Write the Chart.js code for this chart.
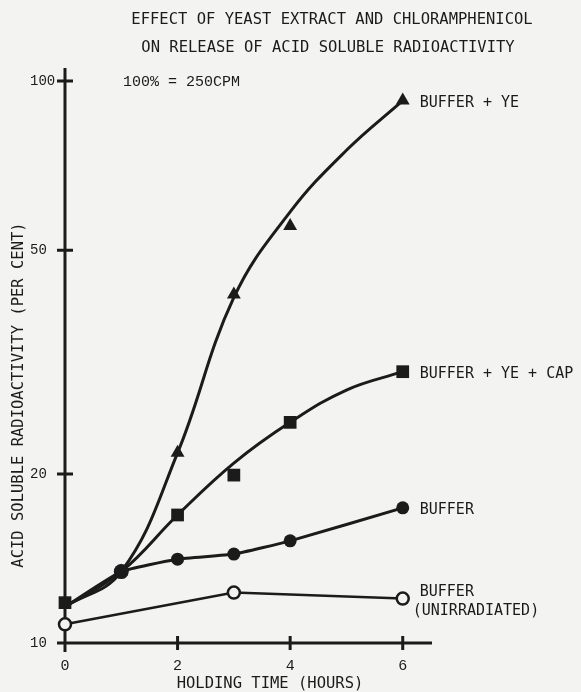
<!DOCTYPE html>
<html>
<head>
<meta charset="utf-8">
<script src="https://cdn.jsdelivr.net/npm/chart.js@4.4.1/dist/chart.umd.min.js"></script>
<style>
  html, body { margin: 0; padding: 0; background: #f3f3f1; }
  canvas { display: block; }
</style>
</head>
<body>
<canvas id="chart" width="581" height="692"></canvas>
<script>
// values (log y axis)
const hours = [0, 1, 2, 3, 4, 6];
const bufferYE = [null, 13.4, 21.8, 41.7, 55.2, 92.3];
const bufferYECap = [11.8, null, 16.9, 19.9, 24.7, 30.4];
const buffer = [11.6, 13.4, 14.1, 14.4, 15.2, 17.4];
const unirradiated = [10.8, null, null, 12.3, null, 12.0];
// hand-drawn fit curves
const curveHours = [0, 1, 2, 3, 4, 5, 6];
const yeCurve = [11.6, 13.4, 21.8, 41.2, 58.5, 75.3, 92.3];
const capCurve = [11.6, 13.4, 16.9, 20.9, 24.7, 28.2, 30.4];
const xTicks = [0, 2, 4, 6];
const yTicks = [10, 20, 50, 100];
const seriesNames = ["BUFFER + YE", "BUFFER + YE + CAP", "BUFFER", "BUFFER\n(UNIRRADIATED)"];
const titleLines = ["EFFECT OF YEAST EXTRACT AND CHLORAMPHENICOL", "ON RELEASE OF ACID SOLUBLE RADIOACTIVITY"];
const xTitle = "HOLDING TIME (HOURS)";
const yTitle = "ACID SOLUBLE RADIOACTIVITY (PER CENT)";
const note = "100% = 250CPM";

const ink = "#1b1b1b";
const paper = "#f3f3f1";
const labelFont = "15.5px 'DejaVu Sans Mono'";

const toPoints = (xs, vals) => xs.map((h, i) => ({ x: h, y: vals[i] }));

// axes drawn as crossing lines like the typed figure
const axesPlugin = {
  id: "axes",
  beforeDraw(chart) {
    const ctx = chart.ctx;
    ctx.save();
    ctx.fillStyle = paper;
    ctx.fillRect(0, 0, chart.width, chart.height);
    ctx.restore();
  },
  beforeDatasetsDraw(chart) {
    const { ctx, chartArea, scales } = chart;
    const x0 = scales.x.getPixelForValue(0);
    const y0 = scales.y.getPixelForValue(10);
    ctx.save();
    ctx.strokeStyle = ink;
    ctx.lineWidth = 3;
    ctx.beginPath();
    ctx.moveTo(chartArea.left, y0);
    ctx.lineTo(chartArea.right, y0);
    ctx.moveTo(x0, chartArea.top);
    ctx.lineTo(x0, chartArea.bottom);
    yTicks.forEach((v) => {
      const y = scales.y.getPixelForValue(v);
      ctx.moveTo(x0 - 8, y);
      ctx.lineTo(x0 + 8, y);
    });
    xTicks.forEach((v) => {
      const x = scales.x.getPixelForValue(v);
      ctx.moveTo(x, y0 - 7);
      ctx.lineTo(x, y0 + 7);
    });
    ctx.stroke();
    ctx.restore();
  },
  afterDraw(chart) {
    const { ctx } = chart;
    ctx.save();
    ctx.fillStyle = ink;
    ctx.textBaseline = "middle";
    ctx.font = labelFont;

    ctx.textAlign = "center";
    ctx.fillText(titleLines[0], 332, 20);
    ctx.fillText(titleLines[1], 328, 48);
    ctx.fillText(xTitle, 270, 684);

    ctx.save();
    ctx.translate(19, 395);
    ctx.rotate(-Math.PI / 2);
    ctx.fillText(yTitle, 0, 0);
    ctx.restore();

    ctx.textAlign = "left";
    ctx.font = "15px 'Liberation Mono'";
    ctx.fillText(note, 123, 82);

    // series labels beside the last marker of each series
    ctx.font = "15px 'DejaVu Sans Mono'";
    const lx = chart.scales.x.getPixelForValue(6) + 17;
    seriesNames.forEach((name, i) => {
      const pts = chart.getDatasetMeta(i).data.filter((p) => !p.skip);
      const last = pts[pts.length - 1];
      const lines = name.split("\n");
      if (lines.length === 1) {
        ctx.fillText(lines[0], lx, last.y + 2);
      } else {
        ctx.fillText(lines[0], lx, last.y - 6);
        ctx.fillText(lines[1], lx - 7, last.y + 13);
      }
    });
    ctx.restore();
  }
};

new Chart(document.getElementById("chart"), {
  type: "line",
  data: {
    datasets: [
      {
        label: seriesNames[0],
        data: toPoints(hours, bufferYE),
        showLine: false,
        backgroundColor: ink,
        pointStyle: "triangle",
        pointRadius: 8,
        pointBorderWidth: 0,
      },
      {
        label: seriesNames[1],
        data: toPoints(hours, bufferYECap),
        showLine: false,
        backgroundColor: ink,
        pointStyle: "rect",
        pointRadius: 9,
        pointBorderWidth: 0,
      },
      {
        label: seriesNames[2],
        data: toPoints(hours, buffer),
        borderColor: ink,
        backgroundColor: ink,
        borderWidth: 3,
        tension: 0.15,
        pointStyle: "circle",
        pointRadius: [0, 7.5, 6.5, 6.5, 6.5, 6.5],
        pointBorderWidth: 0,
      },
      {
        label: seriesNames[3],
        data: toPoints(hours, unirradiated),
        spanGaps: true,
        borderColor: ink,
        backgroundColor: paper,
        borderWidth: 2.5,
        tension: 0,
        pointStyle: "circle",
        pointRadius: 6,
        pointBorderWidth: 2.5,
      },
      {
        label: "YE fit",
        data: toPoints(curveHours, yeCurve),
        borderColor: ink,
        borderWidth: 3,
        tension: 0.4,
        pointRadius: 0,
      },
      {
        label: "YE + CAP fit",
        data: toPoints(curveHours, capCurve),
        borderColor: ink,
        borderWidth: 3,
        tension: 0.4,
        pointRadius: 0,
      },
    ],
  },
  options: {
    responsive: false,
    animation: false,
    clip: false,
    layout: { padding: { left: 30, top: 68, right: 149, bottom: 0 } },
    plugins: {
      legend: { display: false },
      tooltip: { enabled: false },
    },
    scales: {
      x: {
        type: "linear",
        min: -0.142,
        max: 6.52,
        afterBuildTicks: (scale) => {
          scale.ticks = xTicks.map((v) => ({ value: v }));
        },
        afterFit: (scale) => {
          scale.height = 40;
        },
        grid: { display: false, drawTicks: false },
        border: { display: false },
        ticks: {
          autoSkip: false,
          maxRotation: 0,
          padding: 5,
          color: ink,
          font: { family: "Liberation Mono", size: 15 },
          callback: (v) => String(v),
        },
      },
      y: {
        type: "logarithmic",
        min: 9.64,
        max: 105.5,
        afterBuildTicks: (scale) => {
          scale.ticks = yTicks.map((v) => ({ value: v }));
        },
        afterFit: (scale) => {
          scale.width = 27;
        },
        grid: { display: false, drawTicks: false },
        border: { display: false },
        ticks: {
          autoSkip: false,
          crossAlign: "far",
          color: ink,
          font: { family: "Liberation Mono", size: 14 },
          callback: (v) => String(v),
        },
      },
    },
  },
  plugins: [axesPlugin],
});
</script>
</body>
</html>
